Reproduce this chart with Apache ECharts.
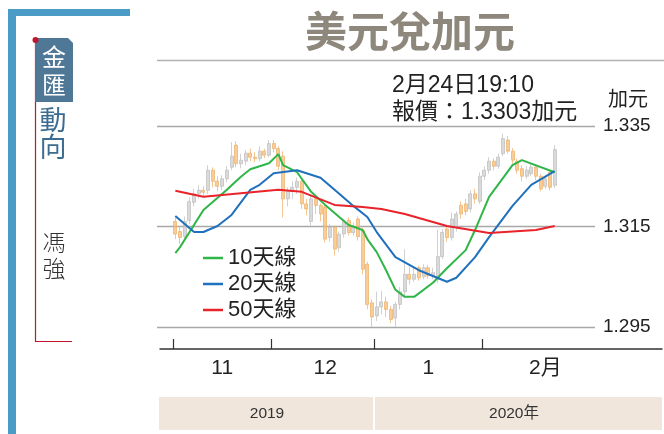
<!DOCTYPE html>
<html><head><meta charset="utf-8">
<script src="https://cdn.jsdelivr.net/npm/echarts@6/dist/echarts.min.js"></script>
<style>html,body{margin:0;padding:0;background:#fff}#c{width:664px;height:434px}</style>
</head><body><div id="c"></div><script>
// ---- data ----
const dates = [
 '2019-11-01','2019-11-04','2019-11-05','2019-11-06','2019-11-07','2019-11-08','2019-11-11','2019-11-12','2019-11-13','2019-11-14','2019-11-15',
 '2019-11-18','2019-11-19','2019-11-20','2019-11-21','2019-11-22','2019-11-25','2019-11-26','2019-11-27','2019-11-28','2019-11-29',
 '2019-12-02','2019-12-03','2019-12-04','2019-12-05','2019-12-06','2019-12-09','2019-12-10','2019-12-11','2019-12-12','2019-12-13',
 '2019-12-16','2019-12-17','2019-12-18','2019-12-19','2019-12-20','2019-12-23','2019-12-24','2019-12-25','2019-12-26','2019-12-27','2019-12-30','2019-12-31',
 '2020-01-01','2020-01-02','2020-01-03','2020-01-06','2020-01-07','2020-01-08','2020-01-09','2020-01-10','2020-01-13','2020-01-14','2020-01-15',
 '2020-01-16','2020-01-17','2020-01-20','2020-01-21','2020-01-22','2020-01-23','2020-01-24','2020-01-27','2020-01-28','2020-01-29','2020-01-30','2020-01-31',
 '2020-02-03','2020-02-04','2020-02-05','2020-02-06','2020-02-07','2020-02-10','2020-02-11','2020-02-12','2020-02-13','2020-02-14',
 '2020-02-17','2020-02-18','2020-02-19','2020-02-20','2020-02-21','2020-02-24'
];
// [open, close, low, high]
const ohlc = [
 [1.3160,1.3135,1.3125,1.3168],[1.3140,1.3128,1.3115,1.3150],[1.3130,1.3160,1.3122,1.3170],[1.3162,1.3200,1.3155,1.3208],
 [1.3198,1.3215,1.3190,1.3225],[1.3215,1.3222,1.3205,1.3232],[1.3222,1.3218,1.3210,1.3230],[1.3222,1.3262,1.3215,1.3272],
 [1.3262,1.3240,1.3228,1.3268],[1.3240,1.3230,1.3220,1.3250],[1.3230,1.3245,1.3222,1.3252],[1.3245,1.3262,1.3238,1.3270],
 [1.3268,1.3290,1.3262,1.3318],[1.3312,1.3275,1.3268,1.3320],[1.3275,1.3282,1.3266,1.3295],[1.3280,1.3296,1.3272,1.3302],
 [1.3296,1.3288,1.3280,1.3305],[1.3288,1.3285,1.3278,1.3298],[1.3285,1.3300,1.3280,1.3310],[1.3300,1.3292,1.3286,1.3305],
 [1.3292,1.3315,1.3288,1.3322],
 [1.3315,1.3305,1.3298,1.3322],[1.3305,1.3270,1.3262,1.3310],[1.3290,1.3205,1.3168,1.3300],[1.3205,1.3220,1.3190,1.3228],
 [1.3220,1.3228,1.3205,1.3240],[1.3228,1.3240,1.3215,1.3248],[1.3240,1.3195,1.3185,1.3245],[1.3195,1.3185,1.3172,1.3205],
 [1.3160,1.3205,1.3152,1.3212],[1.3205,1.3192,1.3175,1.3212],[1.3192,1.3175,1.3160,1.3196],[1.3188,1.3125,1.3118,1.3192],
 [1.3128,1.3148,1.3120,1.3155],[1.3148,1.3105,1.3092,1.3152],[1.3108,1.3135,1.3100,1.3140],[1.3135,1.3160,1.3128,1.3165],
 [1.3162,1.3138,1.3132,1.3168],[1.3138,1.3150,1.3132,1.3158],[1.3165,1.3130,1.3122,1.3170],[1.3142,1.3065,1.3055,1.3148],
 [1.3075,1.2995,1.2985,1.3080],[1.2998,1.2970,1.2950,1.3005],
 [1.2972,1.2990,1.2962,1.3020],[1.2990,1.3000,1.2975,1.3022],[1.3000,1.2985,1.2970,1.3010],[1.2985,1.2965,1.2958,1.2992],
 [1.2968,1.2995,1.2950,1.3000],[1.2995,1.3020,1.2985,1.3030],[1.3020,1.3055,1.3012,1.3105],[1.3055,1.3045,1.3035,1.3070],
 [1.3045,1.3055,1.3040,1.3068],[1.3068,1.3048,1.3042,1.3072],[1.3050,1.3068,1.3045,1.3075],[1.3068,1.3052,1.3046,1.3074],
 [1.3052,1.3058,1.3045,1.3068],[1.3045,1.3090,1.3038,1.3143],[1.3090,1.3138,1.3085,1.3145],[1.3145,1.3128,1.3120,1.3150],
 [1.3128,1.3165,1.3122,1.3178],[1.3150,1.3175,1.3140,1.3180],[1.3192,1.3175,1.3165,1.3200],[1.3195,1.3180,1.3172,1.3205],
 [1.3185,1.3215,1.3178,1.3222],[1.3215,1.3205,1.3195,1.3225],[1.3200,1.3250,1.3195,1.3258],
 [1.3250,1.3262,1.3242,1.3270],[1.3262,1.3280,1.3255,1.3288],[1.3280,1.3270,1.3262,1.3286],[1.3270,1.3288,1.3265,1.3295],
 [1.3295,1.3325,1.3290,1.3335],[1.3322,1.3300,1.3295,1.3330],[1.3300,1.3282,1.3275,1.3306],[1.3280,1.3262,1.3255,1.3285],
 [1.3265,1.3250,1.3240,1.3272],[1.3250,1.3262,1.3245,1.3270],[1.3255,1.3268,1.3250,1.3275],[1.3268,1.3250,1.3242,1.3272],
 [1.3250,1.3225,1.3220,1.3255],[1.3230,1.3245,1.3225,1.3252],[1.3258,1.3228,1.3222,1.3262],[1.3232,1.3303,1.3226,1.3312]
];
const ma10 = [
 ['2019-11-01',1.3097],['2019-11-04',1.3109],['2019-11-11',1.3183],['2019-11-18',1.3223],['2019-11-21',1.3249],
 ['2019-11-25',1.3264],['2019-11-29',1.3276],['2019-12-03',1.3294],['2019-12-04',1.3272],['2019-12-09',1.3258],
 ['2019-12-12',1.3219],['2019-12-17',1.3193],['2019-12-19',1.3177],['2019-12-24',1.3153],['2019-12-27',1.3143],
 ['2019-12-30',1.3125],['2020-01-01',1.3099],['2020-01-03',1.3063],['2020-01-07',1.3024],['2020-01-09',1.3010],
 ['2020-01-13',1.3010],['2020-01-17',1.3038],['2020-01-22',1.3067],['2020-01-28',1.3103],['2020-01-30',1.3143],
 ['2020-02-04',1.3209],['2020-02-11',1.3272],['2020-02-13',1.3282],['2020-02-24',1.3258]
];
const ma20 = [
 ['2019-11-01',1.3171],['2019-11-07',1.3139],['2019-11-11',1.3139],['2019-11-14',1.3151],['2019-11-19',1.3173],
 ['2019-11-25',1.3223],['2019-11-27',1.3233],['2019-12-02',1.3256],['2019-12-09',1.3262],['2019-12-16',1.3247],
 ['2019-12-20',1.3215],['2019-12-25',1.3191],['2019-12-30',1.3169],['2020-01-01',1.3139],['2020-01-07',1.3089],
 ['2020-01-14',1.3063],['2020-01-22',1.3040],['2020-01-24',1.3048],['2020-01-30',1.3089],['2020-02-04',1.3129],
 ['2020-02-11',1.3191],['2020-02-17',1.3233],['2020-02-24',1.3260]
];
const ma50 = [
 ['2019-11-01',1.3221],['2019-11-11',1.3209],['2019-12-03',1.3223],['2019-12-10',1.3219],['2019-12-19',1.3193],
 ['2019-12-27',1.3189],['2020-01-02',1.3185],['2020-01-09',1.3175],['2020-01-22',1.3151],['2020-02-04',1.3137],
 ['2020-02-18',1.3143],['2020-02-24',1.3151]
];
const seriesNames = ['10天線','20天線','50天線'];
const monthStarts = ['2019-11-01','2019-12-02','2020-01-01','2020-02-03'];
const monthLabelDates = ['2019-11-15','2019-12-17','2020-01-16','2020-02-20'];
const monthLabels = ['11','12','1','2月'];
const yearLabels = ['2019','2020年'];
const yMin = 1.295, yMax = 1.335, yStep = 0.02;

// ---- chart ----
const REG = '"Liberation Sans","Noto Sans CJK TC",sans-serif';
const CJK = '"Noto Sans CJK TC",sans-serif';
const tickVals = monthStarts.map(d => dates.indexOf(d) - 0.5);
const labelVals = monthLabelDates.map(d => dates.indexOf(d));

const chart = echarts.init(document.getElementById('c'), null, {renderer:'canvas'});
chart.setOption({
  animation:false,
  backgroundColor:'#fff',
  grid:[
    {left:173, right:107, top:126, bottom:107},
    {left:157, right:69, top:126, bottom:107},
    {left:160, right:2, top:300, bottom:85}
  ],
  xAxis:[
    {type:'category', gridIndex:0, data:dates, show:false},
    {type:'value', gridIndex:0, min:-0.5, max:dates.length-0.5, position:'bottom', offset:22,
     axisLine:{show:false}, splitLine:{show:false},
     axisTick:{show:true, inside:true, length:10, customValues:tickVals, lineStyle:{color:'#333', width:1.2}},
     axisLabel:{show:true, customValues:labelVals, margin:9, fontSize:21, color:'#222', fontFamily:REG,
       formatter:v => monthLabels[labelVals.indexOf(Math.round(v))] || ''}},
    {type:'value', gridIndex:1, show:false},
    {type:'value', gridIndex:2, min:0, max:1, axisLine:{show:true, lineStyle:{color:'#333', width:1.5}},
     axisTick:{show:false}, axisLabel:{show:false}, splitLine:{show:false}}
  ],
  yAxis:[
    {type:'value', gridIndex:0, min:yMin, max:yMax, show:false},
    {type:'value', gridIndex:1, min:yMin, max:yMax, interval:yStep, position:'right',
     axisLine:{show:false}, axisTick:{show:false},
     splitLine:{show:true, lineStyle:{color:'#a8a8a8', width:1.3}},
     axisLabel:{margin:8, fontSize:19, color:'#222', fontFamily:REG, formatter:v => v.toFixed(3)}},
    {type:'value', gridIndex:2, min:0, max:1, show:false}
  ],
  legend:{
    data:seriesNames, orient:'vertical', left:203, top:247, padding:0, itemWidth:20, itemHeight:2.5, itemGap:4,
    icon:'rect', textStyle:{fontSize:22, color:'#222', fontFamily:REG}
  },
  series:[
    {type:'candlestick', xAxisIndex:0, yAxisIndex:0, data:ohlc, barWidth:'75%', z:1,
     itemStyle:{color:'#cbcbcb', color0:'#f4b872', borderColor:'#bdbdbd', borderColor0:'#efae64', borderWidth:1, opacity:0.7}},
    {name:seriesNames[0], type:'line', xAxisIndex:0, yAxisIndex:0, data:ma10, connectNulls:true, symbol:'none', z:5,
     color:'#2fb548', lineStyle:{width:2, color:'#2fb548'}},
    {name:seriesNames[1], type:'line', xAxisIndex:0, yAxisIndex:0, data:ma20, connectNulls:true, symbol:'none', z:5,
     color:'#1f70bd', lineStyle:{width:2, color:'#1f70bd'}},
    {name:seriesNames[2], type:'line', xAxisIndex:0, yAxisIndex:0, data:ma50, connectNulls:true, symbol:'none', z:5,
     color:'#e8232a', lineStyle:{width:2, color:'#e8232a'}}
  ],
  graphic:[
    // sidebar frame
    {type:'rect', shape:{x:8, y:9, width:8, height:425}, style:{fill:'#4a9cc7'}},
    {type:'rect', shape:{x:8, y:9, width:122, height:7}, style:{fill:'#4a9cc7'}},
    {type:'polyline', shape:{points:[[35.5,40],[35.5,341.5],[72,341.5]]}, style:{stroke:'#c3142c', lineWidth:1.2, fill:null}},
    {type:'polygon', shape:{points:[[35,38],[68,38],[73,43],[73,102],[35,102]]}, style:{fill:'#4f7796'}},
    {type:'circle', shape:{cx:35.5, cy:40, r:3}, style:{fill:'#c3142c'}},
    {type:'text', style:{text:'金', x:54, y:57, font:'24px '+CJK, fill:'#fff', textAlign:'center', textVerticalAlign:'middle'}},
    {type:'text', style:{text:'匯', x:54, y:85, font:'24px '+CJK, fill:'#fff', textAlign:'center', textVerticalAlign:'middle'}},
    {type:'text', style:{text:'動', x:53, y:120, font:'27px '+CJK, fill:'#3d6c91', textAlign:'center', textVerticalAlign:'middle'}},
    {type:'text', style:{text:'向', x:53, y:147, font:'27px '+CJK, fill:'#3d6c91', textAlign:'center', textVerticalAlign:'middle'}},
    {type:'text', style:{text:'馮', x:54, y:242, font:'300 23px '+CJK, fill:'#333', textAlign:'center', textVerticalAlign:'middle'}},
    {type:'text', style:{text:'強', x:54, y:268, font:'300 23px '+CJK, fill:'#333', textAlign:'center', textVerticalAlign:'middle'}},
    // title
    {type:'text', style:{text:'美元兌加元', x:410, y:31, font:'bold 42px '+CJK, fill:'#8d877c', textAlign:'center', textVerticalAlign:'middle'}},
    {type:'line', shape:{x1:157, y1:60.5, x2:664, y2:60.5}, style:{stroke:'#b0b0b0', lineWidth:1.5}},
    {type:'text', style:{text:'2月24日19:10', x:392, y:86, font:'23px '+REG, fill:'#222', textAlign:'left', textVerticalAlign:'middle'}},
    {type:'text', style:{text:'報價：1.3303加元', x:392, y:113, font:'23px '+REG, fill:'#222', textAlign:'left', textVerticalAlign:'middle'}},
    {type:'text', style:{text:'加元', x:628, y:98, font:'20px '+CJK, fill:'#222', textAlign:'center', textVerticalAlign:'middle'}},
    // year band
    {type:'rect', shape:{x:159, y:397, width:214, height:33}, style:{fill:'#f0e6dc'}},
    {type:'rect', shape:{x:375, y:397, width:287, height:33}, style:{fill:'#f0e6dc'}},
    {type:'text', style:{text:yearLabels[0], x:267, y:413.5, font:'15.5px '+REG, fill:'#333', textAlign:'center', textVerticalAlign:'middle'}},
    {type:'text', style:{text:yearLabels[1], x:514, y:413.5, font:'15.5px '+REG, fill:'#333', textAlign:'center', textVerticalAlign:'middle'}}
  ]
});
</script></body></html>
